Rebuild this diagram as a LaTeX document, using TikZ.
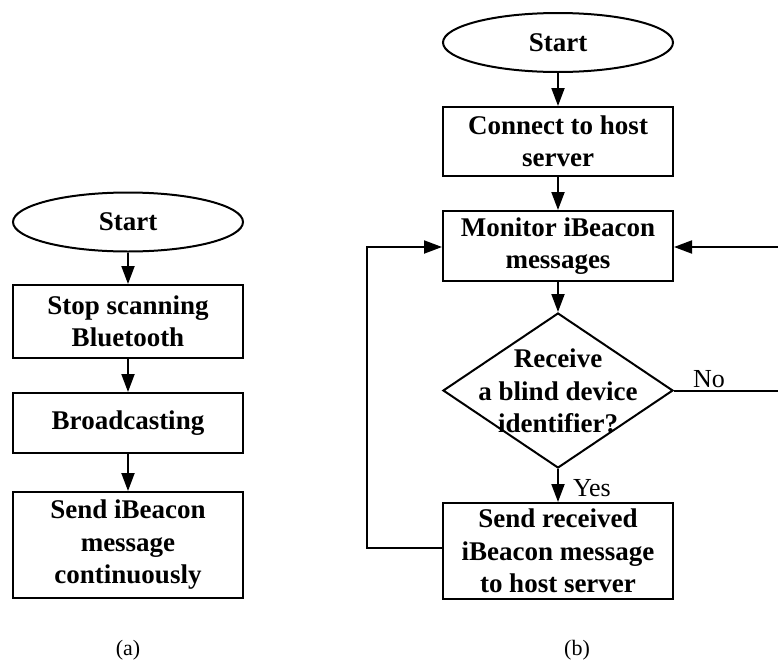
\documentclass[tikz,border=0pt]{standalone}
\usepackage{fontspec}
\setmainfont{Liberation Serif}
\usetikzlibrary{arrows.meta,shapes.geometric}
\begin{document}
\begin{tikzpicture}[x=1pt,y=-1pt,
  line width=2pt,
  arr/.style={-{Triangle[length=18pt,width=13pt]}},
  txt/.style={font=\fontsize{27}{32.5}\selectfont\bfseries, align=center},
  box/.style={draw, txt, minimum width=230pt, inner sep=0pt},
  term/.style={draw, ellipse, txt, minimum width=230pt, minimum height=59pt, inner sep=0pt},
  lbl/.style={font=\fontsize{26}{30}\selectfont, inner sep=0pt},
  captxt/.style={font=\fontsize{22}{26}\selectfont, inner sep=0pt}]
\useasboundingbox (0,0) rectangle (778,664);
% (a)
\node[term] (as) at (128,222) {Start};
\node[box, minimum height=73pt] (a1) at (128,321.5) {Stop scanning\\Bluetooth};
\node[box, minimum height=60pt] (a2) at (128,423) {Broadcasting};
\node[box, minimum height=106pt] (a3) at (128,545) {Send iBeacon\\message\\continuously};
\node[captxt] (ca) at (128,650) {(a)};
\draw[arr] (as) -- (a1);
\draw[arr] (a1) -- (a2);
\draw[arr] (a2) -- (a3);
% (b)
\node[term] (bs) at (558,42.5) {Start};
\node[box, minimum height=69pt] (b1) at (558,141.5) {Connect to host\\server};
\node[box, minimum height=70pt] (b2) at (558,246) {Monitor iBeacon\\messages};
\node[draw, diamond, minimum width=230pt, minimum height=155pt, inner sep=0pt] (d) at (558,390.5) {};
\node[txt] (dt) at (558,391) {Receive\\a blind device\\identifier?};
\node[box, minimum height=96pt] (b3) at (558,551) {Send received\\iBeacon message\\to host server};
\node[captxt] (cb) at (577,650) {(b)};
\draw[arr] (bs) -- (b1);
\draw[arr] (b1) -- (b2);
\draw[arr] (b2) -- (d.north);
\draw[arr] (d.south) -- (b3);
\node[lbl, anchor=west] (yes) at (572,488) {Yes};
\coordinate (lc) at (367,0);
\coordinate (rc) at (780,0);
\draw[arr] (b3.west |- 0,548) -| (lc |- 0,548) |- (b2.west |- 0,247);
\draw[arr] (d.east) -- (rc |- d.east) |- (b2.east |- 0,247);
\node[lbl, anchor=south west] (no) at (692,389) {No};
\end{tikzpicture}
\end{document}
